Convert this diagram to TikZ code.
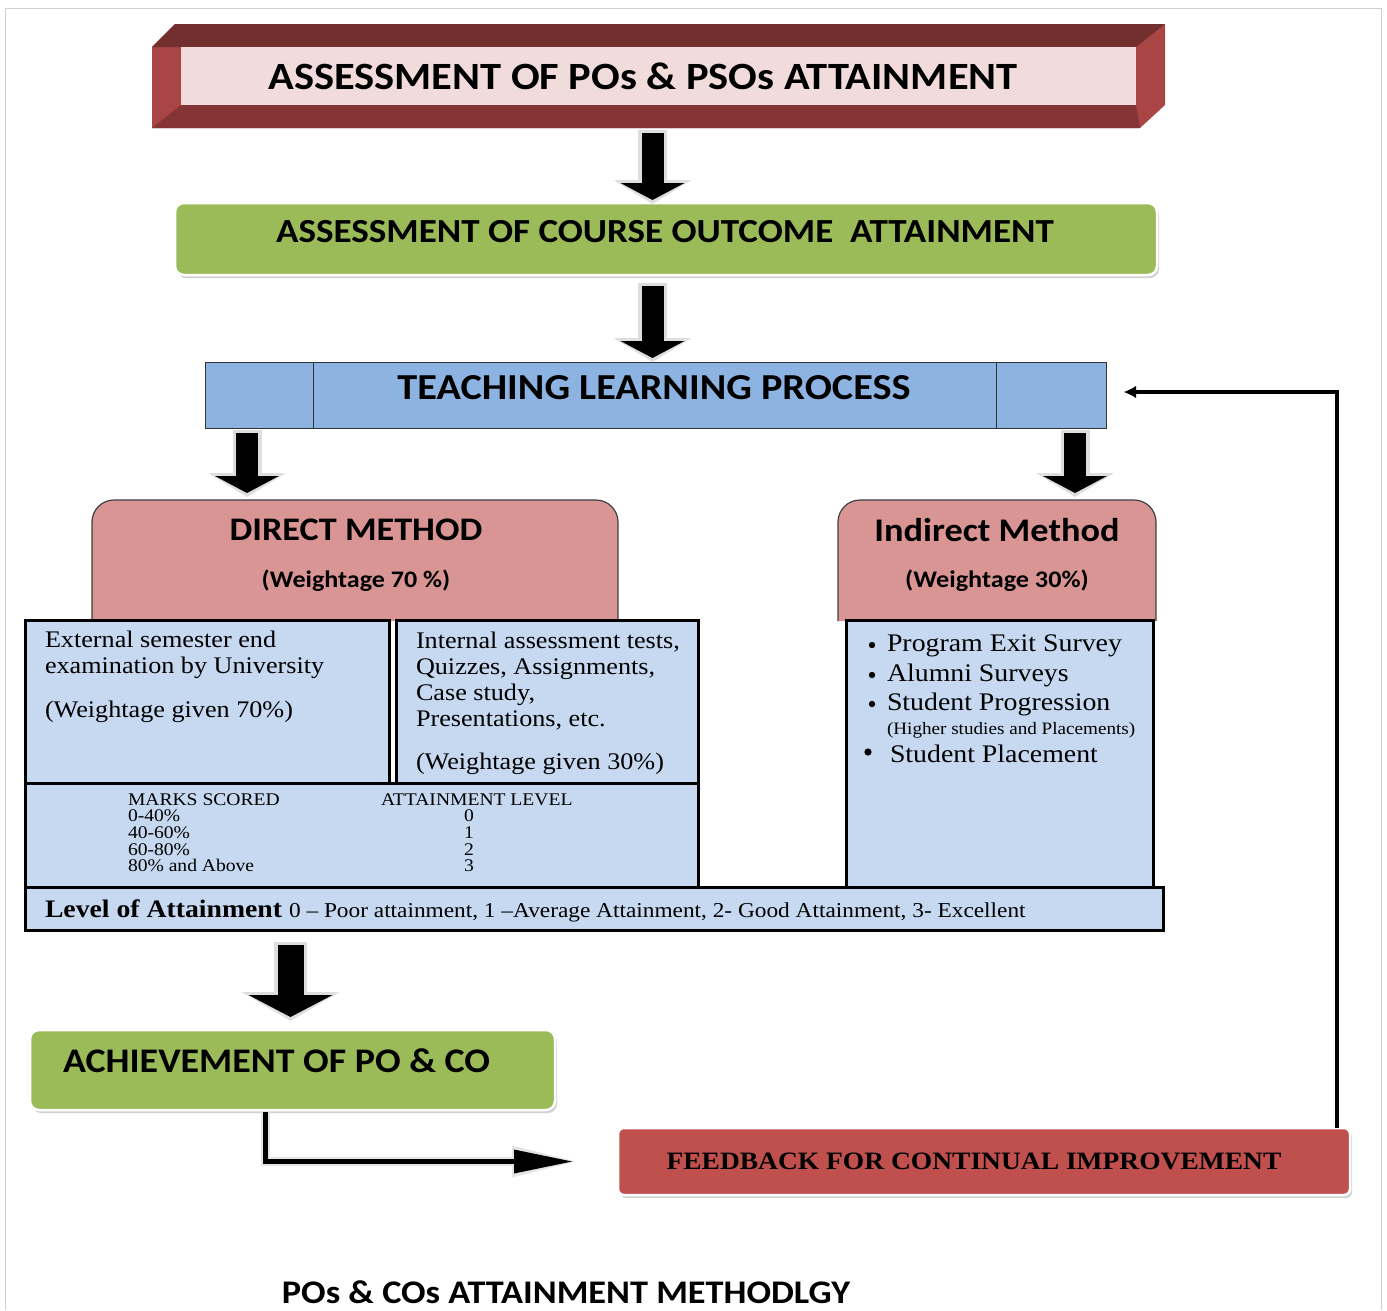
\documentclass[tikz,border=0pt]{standalone}
\usepackage{fontspec}
\setmainfont[FakeStretch=1.1]{Liberation Serif}
\newfontfamily\headfont[FakeStretch=1.1]{Carlito}
\usetikzlibrary{arrows.meta,shadows,calc,fit}

\definecolor{frontpink}{HTML}{F2DCDB}
\definecolor{bevtop}{HTML}{722F2E}
\definecolor{bevbot}{HTML}{853535}
\definecolor{bevside}{HTML}{A94545}
\definecolor{olive}{HTML}{9BBB59}
\definecolor{tlpblue}{HTML}{8DB3E2}
\definecolor{rose}{HTML}{D99594}
\definecolor{paleblue}{HTML}{C6D9F1}
\definecolor{brick}{HTML}{C0504D}
\definecolor{framegray}{HTML}{CFCFCF}

\tikzset{
  hfont/.style={font=\headfont\bfseries\fontsize{#1}{#1}\selectfont},
  sfont/.style={font=\fontsize{#1}{#1}\selectfont},
  bfont/.style={font=\bfseries\fontsize{#1}{#1}\selectfont},
  regionbox/.style={rectangle, inner sep=0pt, outer sep=0pt},
  softshadow/.style={drop shadow={shadow xshift=2pt, shadow yshift=-3pt, fill=black!40, opacity=.45}},
  olivebox/.style={regionbox, rounded corners=9pt, fill=olive, draw=white, line width=2.5pt, softshadow},
  brickbox/.style={regionbox, rounded corners=6pt, fill=brick, draw=white, line width=2.5pt, softshadow},
  tabcell/.style={regionbox, fill=paleblue, draw=black, line width=3pt},
  methodshape/.style={fill=rose, draw=black!75, line width=1.2pt, rounded corners=22pt},
  shaftA/.style={line width=22pt, -{Triangle[width=64pt,length=17pt,line width=0pt]}},
  rimA/.style={line width=29pt, draw=black!13, -{Triangle[width=78pt,length=24pt,line width=0pt]}},
  shaftB/.style={line width=26pt, -{Triangle[width=84pt,length=22pt,line width=0pt]}},
  rimB/.style={line width=33pt, draw=black!13, -{Triangle[width=98pt,length=29pt,line width=0pt]}},
}

% thick block arrow with a pale rim: #1 size (A/B), #2 start, #3 tip
\newcommand\flowarrow[3]{%
  \draw[rim#1] (#2) -- ($(#3)+(0,4)$);
  \draw[shaft#1] ($(#2)+(0,3)$) -- (#3);
}

\begin{document}
\begin{tikzpicture}[x=1pt,y=-1pt, every node/.style={inner sep=0pt, outer sep=0pt}]
\useasboundingbox (0,0) rectangle (1387,1310);

% page frame
\draw[framegray, line width=1pt] (5,1310) -- (5,8) -- (1381,8) -- (1381,1310);

% ---- bevelled title block ----
\fill[bevside] (175,24) -- (1165,24) -- (1165,105) -- (1140,128) -- (152,128) -- (152,47) -- cycle;
\fill[bevtop] (152,47) -- (175,24) -- (1165,24) -- (1136,47) -- cycle;
\fill[bevbot] (152,128) -- (181,105) -- (1136,105) -- (1140,128) -- cycle;
\node[regionbox, fill=frontpink, fit={(181,47) (1136,105)}] (pof) {};
\node[regionbox, fit={(152,24) (1165,128)}] (po) {};
\node[hfont=38.6] (pot) at (643,76) {ASSESSMENT OF POs \& PSOs ATTAINMENT};

% ---- course outcome ----
\node[olivebox, fit={(175,203) (1157,275)}] (co) {};
\node[hfont=33.7] (cot) at (665,232) {ASSESSMENT OF COURSE OUTCOME\ \ ATTAINMENT};

% ---- teaching learning process ----
\node[regionbox, fill=tlpblue, draw=black!80, line width=1pt, fit={(205,362) (1106,428)}] (tlp) {};
\draw[black!80, line width=1pt] ([xshift=108]tlp.north west) -- ([xshift=108]tlp.south west);
\draw[black!80, line width=1pt] ([xshift=-110]tlp.north east) -- ([xshift=-110]tlp.south east);
\node[hfont=36.6] (tlpt) at (654,388) {TEACHING LEARNING PROCESS};

% ---- method headers ----
\node[regionbox, fit={(92,500) (618,621)}] (dm) {};
\draw[methodshape] (dm.south west) -- (dm.north west) -- (dm.north east) -- (dm.south east);
\node[hfont=32.9] (dmt) at (356,530) {DIRECT METHOD};
\node[hfont=23.7] (dmw) at (356,581) {(Weightage 70 \%)};

\node[regionbox, fit={(838,500) (1156,621)}] (im) {};
\draw[methodshape] (im.south west) -- (im.north west) -- (im.north east) -- (im.south east);
\node[hfont=33] (imt) at (997,530) {Indirect Method};
\node[hfont=23.8] (imw) at (997,581) {(Weightage 30\%)};

% ---- direct method table ----
\node[tabcell, fit={(25,620) (389,783)}] (ext) {};
\node[tabcell, fit={(396,620) (698,783)}] (int) {};
\node[tabcell, fit={(25,783) (698,887)}] (mks) {};
\node[tabcell, fit={(846,620) (1153,887)}] (ind) {};
\node[tabcell, fit={(25,887) (1163,930)}] (lvl) {};

\node[sfont=23.8, anchor=base west] (e1) at (45,647) {External semester end};
\node[sfont=23.8, anchor=base west] (e2) at (45,673) {examination by University};
\node[sfont=23.8, anchor=base west] (e3) at (45,717) {(Weightage given 70\%)};

\node[sfont=23.8, anchor=base west] (i1) at (416,648) {Internal assessment tests,};
\node[sfont=23.8, anchor=base west] (i2) at (416,674) {Quizzes, Assignments,};
\node[sfont=23.8, anchor=base west] (i3) at (416,700) {Case study,};
\node[sfont=23.8, anchor=base west] (i4) at (416,726) {Presentations, etc.};
\node[sfont=23.8, anchor=base west] (i5) at (416,769) {(Weightage given 30\%)};

\node[sfont=17.8, anchor=base west] (m0) at (128,805) {MARKS SCORED};
\node[sfont=17.8, anchor=base west] (m1) at (128,821) {0-40\%};
\node[sfont=17.8, anchor=base west] (m2) at (128,838) {40-60\%};
\node[sfont=17.8, anchor=base west] (m3) at (128,855) {60-80\%};
\node[sfont=17.8, anchor=base west] (m4) at (128,871) {80\% and Above};
\node[sfont=17.8, anchor=base west] (l0) at (381,805) {ATTAINMENT LEVEL};
\node[sfont=17.8, anchor=base] (l1) at (469,821) {0};
\node[sfont=17.8, anchor=base] (l2) at (469,838) {1};
\node[sfont=17.8, anchor=base] (l3) at (469,855) {2};
\node[sfont=17.8, anchor=base] (l4) at (469,871) {3};

% ---- indirect method list ----
\fill (872,645) circle (3.2);
\fill (872,675) circle (3.2);
\fill (872,704) circle (3.2);
\fill (868,752) circle (3.6);
\node[sfont=25.3, anchor=base west] (p1) at (887,651) {Program Exit Survey};
\node[sfont=25.3, anchor=base west] (p2) at (887,681) {Alumni Surveys};
\node[sfont=25.3, anchor=base west] (p3) at (887,710) {Student Progression};
\node[sfont=17.4, anchor=base west] (p4) at (887,734) {(Higher studies and Placements)};
\node[sfont=25.3, anchor=base west] (p5) at (890,762) {Student Placement};

% ---- level of attainment ----
\node[anchor=base west] (lvt) at (45,917) {\bfseries\fontsize{25.2}{25.2}\selectfont Level of Attainment
  \mdseries\fontsize{21.2}{21.2}\selectfont 0 -- Poor attainment, 1 --Average Attainment, 2- Good Attainment, 3- Excellent};

% ---- achievement and feedback ----
\node[olivebox, fit={(30,1030) (555,1110)}] (ach) {};
\node[hfont=34.5, anchor=west] (acht) at (63,1061) {ACHIEVEMENT OF PO \& CO};

\node[brickbox, fit={(618,1128) (1350,1195)}] (fb) {};
\node[bfont=25] (fbt) at (974,1161) {FEEDBACK FOR CONTINUAL IMPROVEMENT};

% ---- block arrows ----
\coordinate (a1s) at ($(po.south)+(-6,2)$);
\coordinate (a1e) at ($(a1s |- co.north)+(0,-3)$);
\coordinate (a2s) at ($(co.south -| a1s)+(0,8)$);
\coordinate (a2e) at ($(a2s |- tlp.north)+(0,-4)$);
\coordinate (a3s) at ([xshift=42,yshift=-2]tlp.south west);
\coordinate (a3e) at ($(a3s |- dm.north)+(0,-7)$);
\coordinate (a4s) at ([xshift=-31,yshift=-2]tlp.south east);
\coordinate (a4e) at ($(a4s |- im.north)+(0,-7)$);
\coordinate (a5s) at ($(lvl.south -| ach.north)+(-2,12)$);
\coordinate (a5e) at ($(a5s |- ach.north)+(0,-13)$);
\flowarrow{A}{a1s}{a1e}
\flowarrow{A}{a2s}{a2e}
\flowarrow{A}{a3s}{a3e}
\flowarrow{A}{a4s}{a4e}
\flowarrow{B}{a5s}{a5e}

% achievement -> feedback
\coordinate (c1) at ([xshift=-27,yshift=-2]ach.south);
\coordinate (c2) at ([xshift=-46]fb.west);
\draw[line width=9pt, draw=black!10, -{Triangle[length=64pt,width=32pt,line width=0pt]}] (c1) |- ($(c2)+(4,0)$);
\draw[line width=5pt, -{Triangle[length=58pt,width=24pt,line width=0pt]}] (c1) |- (c2);

% feedback loop back to the teaching process
\coordinate (f1) at ([xshift=-13]fb.north east);
\coordinate (f2) at ([xshift=18,yshift=3]tlp.east);
\draw[line width=4.5pt, -{Latex[length=12pt,width=12pt,line width=0pt]}] (f1) |- (f2);

% ---- caption ----
\node[hfont=33] (cap) at (566,1292) {POs \& COs ATTAINMENT METHODLGY};
\end{tikzpicture}
\end{document}
